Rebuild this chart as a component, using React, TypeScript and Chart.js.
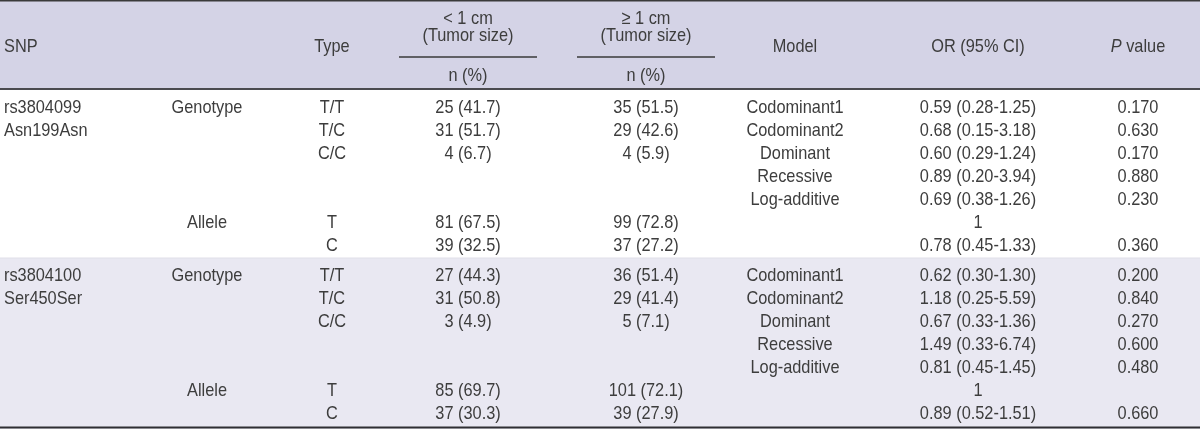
import React, { useEffect, useRef } from "react";
import { Chart, registerables } from "chart.js";

Chart.register(...registerables);

// ---------- data ----------
const snpIds = ["rs3804099", "rs3804100"];
const snpVariants = ["Asn199Asn", "Ser450Ser"];
const typeGroups = ["Genotype", "", "", "", "", "Allele", ""];
const typeLabels = ["T/T", "T/C", "C/C", "", "", "T", "C"];
const models = ["Codominant1", "Codominant2", "Dominant", "Recessive", "Log-additive", "", ""];

const smallTumor1 = ["25 (41.7)", "31 (51.7)", "4 (6.7)", "", "", "81 (67.5)", "39 (32.5)"];
const largeTumor1 = ["35 (51.5)", "29 (42.6)", "4 (5.9)", "", "", "99 (72.8)", "37 (27.2)"];
const oddsRatio1 = ["0.59 (0.28-1.25)", "0.68 (0.15-3.18)", "0.60 (0.29-1.24)", "0.89 (0.20-3.94)", "0.69 (0.38-1.26)", "1", "0.78 (0.45-1.33)"];
const pValues1 = ["0.170", "0.630", "0.170", "0.880", "0.230", "", "0.360"];

const smallTumor2 = ["27 (44.3)", "31 (50.8)", "3 (4.9)", "", "", "85 (69.7)", "37 (30.3)"];
const largeTumor2 = ["36 (51.4)", "29 (41.4)", "5 (7.1)", "", "", "101 (72.1)", "39 (27.9)"];
const oddsRatio2 = ["0.62 (0.30-1.30)", "1.18 (0.25-5.59)", "0.67 (0.33-1.36)", "1.49 (0.33-6.74)", "0.81 (0.45-1.45)", "1", "0.89 (0.52-1.51)"];
const pValues2 = ["0.200", "0.840", "0.270", "0.600", "0.480", "", "0.660"];

const headerLabels = ["SNP", "Type", "< 1 cm", "(Tumor size)", "≥ 1 cm", "(Tumor size)", "n (%)", "n (%)", "Model", "OR (95% CI)", "P value"];

// ---------- layout ----------
const W = 1200;
const H = 429;
const X_SNP = 4;
const X_GROUP = 207;
const X_TYPE = 332;
const X_LT = 468;
const X_GE = 646;
const X_MODEL = 795;
const X_OR = 978;
const X_P = 1138;
const HEADER_BOTTOM = 89;
const BAND_H = 169;
const ROW_OFFSETS = [18.5, 17.5];
const ROW_H = 23;
const FONT_PX = 19;
const CONDENSE = 0.86;
const TEXT_COLOR = "#3d3d3d";
const FONT_FAMILY = '"Liberation Sans", Arial, sans-serif';

type Cell = { x: number; y: number; text: string; align?: "left" | "center"; kind?: string };

function rowY(group: number, row: number) {
  return HEADER_BOTTOM + group * BAND_H + ROW_OFFSETS[group] + row * ROW_H;
}

function buildCells(): Cell[] {
  const cells: Cell[] = [];
  // header
  cells.push({ x: X_SNP, y: 47, text: headerLabels[0], align: "left" });
  cells.push({ x: X_TYPE, y: 47, text: headerLabels[1] });
  cells.push({ x: X_LT, y: 19, text: headerLabels[2] });
  cells.push({ x: X_LT, y: 36, text: headerLabels[3] });
  cells.push({ x: X_GE, y: 19, text: headerLabels[4] });
  cells.push({ x: X_GE, y: 36, text: headerLabels[5] });
  cells.push({ x: X_LT, y: 75.5, text: headerLabels[6] });
  cells.push({ x: X_GE, y: 75.5, text: headerLabels[7] });
  cells.push({ x: X_MODEL, y: 47, text: headerLabels[8] });
  cells.push({ x: X_OR, y: 47, text: headerLabels[9] });
  cells.push({ x: X_P, y: 47, text: headerLabels[10], kind: "pvalue" });

  const groups = [
    { small: smallTumor1, large: largeTumor1, or: oddsRatio1, p: pValues1 },
    { small: smallTumor2, large: largeTumor2, or: oddsRatio2, p: pValues2 },
  ];
  groups.forEach((g, gi) => {
    cells.push({ x: X_SNP, y: rowY(gi, 0), text: snpIds[gi], align: "left" });
    cells.push({ x: X_SNP, y: rowY(gi, 1), text: snpVariants[gi], align: "left" });
    for (let r = 0; r < 7; r++) {
      const y = rowY(gi, r);
      const cols: [number, string][] = [
        [X_GROUP, typeGroups[r]],
        [X_TYPE, typeLabels[r]],
        [X_LT, g.small[r]],
        [X_GE, g.large[r]],
        [X_MODEL, models[r]],
        [X_OR, g.or[r]],
        [X_P, g.p[r]],
      ];
      cols.forEach(([x, t]) => {
        if (t) cells.push({ x, y, text: t });
      });
    }
  });
  return cells;
}

const tablePlugin = {
  id: "tablePlugin",
  beforeDatasetsDraw(chart: any) {
    const ctx = chart.ctx as CanvasRenderingContext2D;
    const xs = chart.scales.x;
    const ys = chart.scales.y;
    const px = (v: number) => xs.getPixelForValue(v);
    const py = (v: number) => ys.getPixelForValue(v);
    ctx.save();
    // bands
    ctx.fillStyle = "#d4d3e6";
    ctx.fillRect(px(0), py(0), px(W) - px(0), py(HEADER_BOTTOM) - py(0));
    ctx.fillStyle = "#ffffff";
    ctx.fillRect(px(0), py(HEADER_BOTTOM), px(W) - px(0), py(HEADER_BOTTOM + BAND_H) - py(HEADER_BOTTOM));
    ctx.fillStyle = "#e9e8f2";
    ctx.fillRect(px(0), py(HEADER_BOTTOM + BAND_H), px(W) - px(0), py(H) - py(HEADER_BOTTOM + BAND_H));
    // lines
    const hline = (y: number, x0: number, x1: number, w: number, c: string) => {
      ctx.strokeStyle = c;
      ctx.lineWidth = w;
      ctx.beginPath();
      ctx.moveTo(px(x0), py(y));
      ctx.lineTo(px(x1), py(y));
      ctx.stroke();
    };
    hline(0.75, 0, W, 1.5, "#3a3a3a");
    hline(HEADER_BOTTOM, 0, W, 2, "#4a4a4f");
    hline(HEADER_BOTTOM + BAND_H, 0, W, 1, "#e0dfe8");
    hline(H - 1.5, 0, W, 2, "#2f2f33");
    hline(57, 399, 537, 1.3, "#3a3a3a");
    hline(57, 577, 715, 1.3, "#3a3a3a");
    ctx.restore();
  },
  afterDatasetsDraw(chart: any) {
    const ctx = chart.ctx as CanvasRenderingContext2D;
    const meta = chart.getDatasetMeta(0);
    const data = chart.data.datasets[0].data as Cell[];
    ctx.save();
    ctx.fillStyle = TEXT_COLOR;
    ctx.textBaseline = "middle";
    const normal = `${FONT_PX}px ${FONT_FAMILY}`;
    const italic = `italic ${FONT_PX}px ${FONT_FAMILY}`;
    meta.data.forEach((el: any, i: number) => {
      const cell = data[i];
      const x = el.x;
      const y = el.y;
      ctx.save();
      ctx.translate(x, y);
      ctx.scale(CONDENSE, 1);
      if (cell.kind === "pvalue") {
        ctx.font = italic;
        const wP = ctx.measureText("P").width;
        ctx.font = normal;
        const wRest = ctx.measureText(" value").width;
        const start = -(wP + wRest) / 2;
        ctx.textAlign = "left";
        ctx.font = italic;
        ctx.fillText("P", start, 0);
        ctx.font = normal;
        ctx.fillText(" value", start + wP, 0);
      } else {
        ctx.font = normal;
        ctx.textAlign = cell.align === "left" ? "left" : "center";
        ctx.fillText(cell.text, 0, 0);
      }
      ctx.restore();
    });
    ctx.restore();
  },
};

export default function App() {
  const ref = useRef<HTMLCanvasElement | null>(null);
  useEffect(() => {
    if (!ref.current) return;
    const cells = buildCells();
    const chart = new Chart(ref.current, {
      type: "scatter",
      data: {
        datasets: [
          {
            data: cells as any,
            pointRadius: 0,
            pointHoverRadius: 0,
            showLine: false,
          },
        ],
      },
      options: {
        animation: false,
        responsive: false,
        events: [],
        layout: { padding: 0 },
        plugins: { legend: { display: false }, tooltip: { enabled: false } },
        scales: {
          x: { type: "linear", min: 0, max: W, display: false },
          y: { type: "linear", min: 0, max: H, reverse: true, display: false },
        },
      },
      plugins: [tablePlugin],
    });
    return () => chart.destroy();
  }, []);
  return (
    <div style={{ position: "fixed", left: 0, top: 0, width: W, height: H, background: "#fff" }}>
      <canvas ref={ref} width={W} height={H} style={{ display: "block", width: W, height: H }} />
    </div>
  );
}
